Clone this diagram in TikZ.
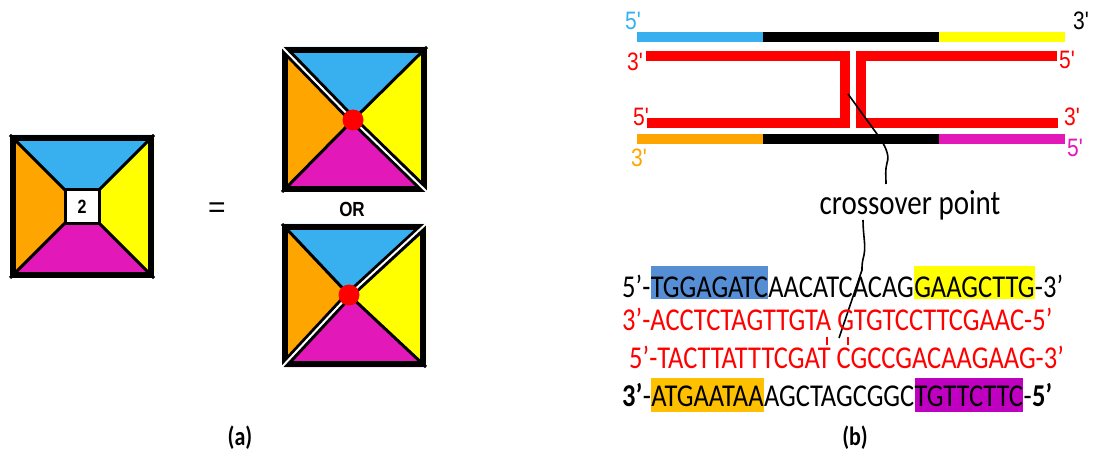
\documentclass[tikz,border=0pt]{standalone}
\usepackage{fontspec}
\setmainfont{Carlito}
\newfontfamily\arialf{Liberation Sans}
\usepackage{graphicx}
\definecolor{sky}{RGB}{56,176,240}
\definecolor{orng}{RGB}{255,165,0}
\definecolor{yell}{RGB}{255,255,0}
\definecolor{mag}{RGB}{226,24,184}
\definecolor{hlblue}{RGB}{85,142,213}
\definecolor{hlorange}{RGB}{255,192,0}
\definecolor{hlpurple}{RGB}{192,0,192}
\newcommand\Ys[1]{\scalebox{1}[1.2]{#1}}
\begin{document}
\begin{tikzpicture}[x=1pt,y=-1pt,
  framebox/.style={line width=6pt,line join=miter},
  diagline/.style={line width=3pt},
  bar/.style={line width=10pt},
  strand/.style={line width=10pt,red,line join=miter},
  endlab/.style={inner sep=0pt,font=\arialf\fontsize{21}{21}\selectfont},
  seq/.style={inner sep=0pt,anchor=base west,font=\fontsize{26.5}{26.5}\selectfont},
  hl/.style={seq,fill=#1,text height=31.7pt,text depth=1.3pt},
  hlb/.style={seq,fill=#1,text height=28.7pt,text depth=5.3pt},
  lead/.style={line width=1.6pt,black},
  tick/.style={line width=1.5pt,red},
  caption/.style={font=\bfseries\fontsize{22}{22}\selectfont}]
\useasboundingbox (0,0) rectangle (1093,457);

% ---------- single tile with label 2 ----------
\fill[sky]  (10,135) -- (154,135) -- (99,190) -- (65,190) -- cycle;
\fill[yell] (154,135) -- (154,278) -- (99,223) -- (99,190) -- cycle;
\fill[mag]  (154,278) -- (10,278) -- (65,223) -- (99,223) -- cycle;
\fill[orng] (10,278) -- (10,135) -- (65,190) -- (65,223) -- cycle;
\draw[diagline] (10,135) -- (65,190) (154,135) -- (99,190)
                (154,278) -- (99,223) (10,278) -- (65,223);
\draw[framebox] (13,138) rectangle (151,275);
\node[draw,line width=3pt,fill=white,minimum size=34pt,inner sep=0pt,
      font=\arialf\bfseries\fontsize{16}{16}\selectfont] (two) at (82,206.5) {\Ys{2}};
\node[font=\arialf\fontsize{30}{30}\selectfont,inner sep=0pt] (eq) at (217,210) {=};

% ---------- upper tile, split along the main diagonal ----------
\fill[sky]  (282,47) -- (427,47) -- (353,120) -- cycle;
\fill[yell] (427,47) -- (427,192) -- (353,120) -- cycle;
\fill[mag]  (427,192) -- (282,192) -- (353,120) -- cycle;
\fill[orng] (282,192) -- (282,47) -- (353,120) -- cycle;
\draw[diagline] (427,47) -- (353,120) -- (282,192);
\draw[framebox] (285,50) rectangle (424,189);
\draw[line width=8pt] (285,50) -- (353,120) -- (424,189);
\draw[line width=2pt,white] (281,46) -- (353,120) -- (428,193);
\fill[red] (353,120) circle (10.5);
\node[font=\arialf\bfseries\fontsize{17}{17}\selectfont,inner sep=0pt] (or) at (352,209) {\Ys{OR}};

% ---------- lower tile, split along the other diagonal ----------
\fill[sky]  (282,224) -- (426,224) -- (349,295) -- cycle;
\fill[yell] (426,224) -- (426,367) -- (349,295) -- cycle;
\fill[mag]  (426,367) -- (282,367) -- (349,295) -- cycle;
\fill[orng] (282,367) -- (282,224) -- (349,295) -- cycle;
\draw[diagline] (282,224) -- (349,295) -- (426,367);
\draw[framebox] (285,227) rectangle (423,364);
\draw[line width=8pt] (285,364) -- (349,295) -- (423,227);
\draw[line width=2pt,white] (281,368) -- (349,295) -- (427,223);
\fill[red] (349,295) circle (10.5);

% ---------- duplex strands with the crossover ----------
\draw[bar,sky]   (637,37) -- (763,37);
\draw[bar,black] (763,37) -- (939,37);
\draw[bar,yell]  (939,37) -- (1065,37);
\draw[bar,orng]  (637,139) -- (763,139);
\draw[bar,black] (763,139) -- (939,139);
\draw[bar,mag]   (939,139) -- (1065,139);
\draw[strand] (646,56) -- (844.5,56) -- (844.5,123) -- (647,123);
\draw[strand] (1057,56.5) -- (860.5,56.5) -- (860.5,123) -- (1058,123);

\node[endlab,text=sky]   (t5)  at (633,21)  {\Ys{5'}};
\node[endlab,text=black] (t3)  at (1081,21) {\Ys{3'}};
\node[endlab,text=red]   (ra3) at (635,61.5) {\Ys{3'}};
\node[endlab,text=red]   (ra5) at (1067,60) {\Ys{5'}};
\node[endlab,text=red]   (rb5) at (641,117) {\Ys{5'}};
\node[endlab,text=red]   (rb3) at (1072,117) {\Ys{3'}};
\node[endlab,text=orng]  (b3)  at (639,158) {\Ys{3'}};
\node[endlab,text=mag]   (b5)  at (1075,148) {\Ys{5'}};

% ---------- crossover label and its leaders ----------
\node[inner sep=0pt,font=\fontsize{29}{29}\selectfont] (cp) at (910,205) {\Ys{crossover point}};
\coordinate (xa) at (848,94);
\coordinate (xb) at (839,338);
\draw[lead] (xa) -- (877,134) .. controls (885,145) and (890,155) .. (887,163)
            .. controls (885,170) and (886,176) .. (886,184);
\draw[lead] (863,220) .. controls (863,235) and (866,245) .. (864,255)
            .. controls (862,262) and (862,266) .. (862,270) -- (xb);

% ---------- sequences ----------
\node[seq] (s1a) at (622,297.7) {\Ys{5’-}};
\node[hl=hlblue] (s1b) at (s1a.base east) {\Ys{TGGAGATC}};
\node[seq] (s1c) at (s1b.base east) {\Ys{AACATCACAG}};
\node[hl=yell] (s1d) at (s1c.base east) {\Ys{GAAGCTTG}};
\node[seq] (s1e) at (s1d.base east) {\Ys{-3’}};

\node[seq,text=red] (s2) at (622,330.7) {\Ys{3’-ACCTCTAGTTGTA GTGTCCTTCGAAC-5’}};
\node[seq,text=red] (s3) at (629,368.3) {\Ys{5’-TACTTATTTCGAT CGCCGACAAGAAG-3’}};

\node[seq,font=\fontsize{26.5}{26.5}\selectfont\bfseries] (s4a) at (622,406.7) {\Ys{3’}};
\node[seq] (s4b) at (s4a.base east) {\Ys{-}};
\node[hlb=hlorange] (s4c) at (s4b.base east) {\Ys{ATGAATAA}};
\node[seq] (s4d) at (s4c.base east) {\Ys{AGCTAGCGGC}};
\node[hlb=hlpurple] (s4e) at (s4d.base east) {\Ys{TGTTCTTC}};
\node[seq] (s4f) at (s4e.base east) {\Ys{-}};
\node[seq,font=\fontsize{26.5}{26.5}\selectfont\bfseries] (s4g) at (s4f.base east) {\Ys{5’}};

\draw[tick] (827,337) -- (827,345);
\draw[tick] (848,337) -- (848,345);

% ---------- panel captions ----------
\node[caption] (capa) at (240,438) {\Ys{(a)}};
\node[caption] (capb) at (855,438) {\Ys{(b)}};
\end{tikzpicture}
\end{document}
